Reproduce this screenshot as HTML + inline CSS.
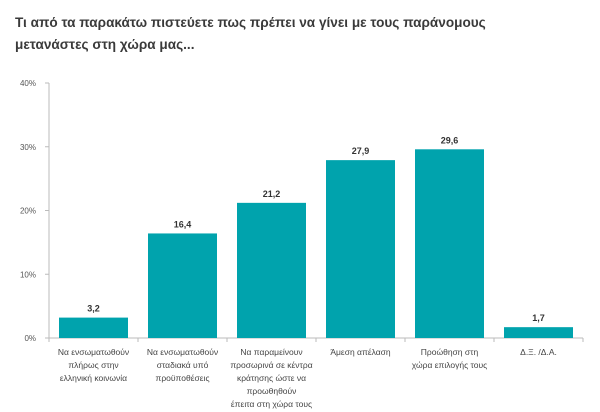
<!DOCTYPE html>
<html><head><meta charset="utf-8"><style>
body{margin:0;background:#fff;width:600px;height:412px;overflow:hidden;font-family:"Liberation Sans","DejaVu Sans",sans-serif}
</style></head><body>
<svg width="600" height="412" style="position:absolute;left:0;top:0">
<text x="15" y="27" font-size="13.6" font-weight="bold" fill="#3a3a3a" font-family="Liberation Sans, DejaVu Sans, sans-serif">Τι από τα παρακάτω πιστεύετε πως πρέπει να γίνει με τους παράνομους</text>
<text x="15" y="49" font-size="13.6" font-weight="bold" fill="#3a3a3a" font-family="Liberation Sans, DejaVu Sans, sans-serif">μετανάστες στη χώρα μας...</text>
<g id="g"></g>
</svg>
<script>
const categories=[["Να ενσωματωθούν","πλήρως στην","ελληνική κοινωνία"],["Να ενσωματωθούν","σταδιακά υπό","προϋποθέσεις"],["Να παραμείνουν","προσωρινά σε κέντρα","κράτησης ώστε να","προωθηθούν","έπειτα στη χώρα τους"],["Άμεση απέλαση"],["Προώθηση στη","χώρα επιλογής τους"],["Δ.Ξ. /Δ.Α."]];
const values=[3.2,16.4,21.2,27.9,29.6,1.7];
const valueLabels=["3,2","16,4","21,2","27,9","29,6","1,7"];
const yTicks=[0,10,20,30,40];
const tickLabels=["0%","10%","20%","30%","40%"];
const NS="http://www.w3.org/2000/svg",g=document.getElementById('g');
const x0=49,x1=583,y0=338,yTop=83,yMax=40;
const y=v=>y0-(v/yMax)*(y0-yTop);
const bw=(x1-x0)/categories.length;
function mk(t,a,txt){const e=document.createElementNS(NS,t);for(const k in a)e.setAttribute(k,a[k]);if(txt!=null)e.textContent=txt;g.appendChild(e);return e;}
yTicks.forEach((t,i)=>{
 const e=mk('text',{x:36,y:y(t)+3,'font-size':8,fill:'#555','text-anchor':'end'},tickLabels[i]);
 
 
 const tk=mk('line',{x1:x0-4,x2:x0,y1:y(t),y2:y(t),stroke:'#bbb'});
 
 
});
const ax=mk('line',{x1:x0,x2:x0,y1:yTop,y2:y0,stroke:'#bbb'});


const bx=mk('line',{x1:x0,x2:x1,y1:y0,y2:y0,stroke:'#bbb'});


for(let i=0;i<=categories.length;i++){
 const t=mk('line',{x1:x0+i*bw,x2:x0+i*bw,y1:y0,y2:y0+4,stroke:'#bbb'});
 
 
}
values.forEach((v,i)=>{
 const cx=x0+bw*(i+0.5);
 const r=mk('rect',{x:cx-34.5,y:y(v),width:69,height:y0-y(v),fill:'#00a3ad'});
 
 
 const l=mk('text',{x:cx,y:y(v)-6,'font-size':9,'font-weight':'bold',fill:'#333','text-anchor':'middle'},valueLabels[i]);
 
 
 categories[i].forEach((ln,j)=>{
  const c=mk('text',{x:cx,y:355+j*13,'font-size':8.5,fill:'#444','text-anchor':'middle'},ln);
  
  
 });
});
</script>
</body></html>
